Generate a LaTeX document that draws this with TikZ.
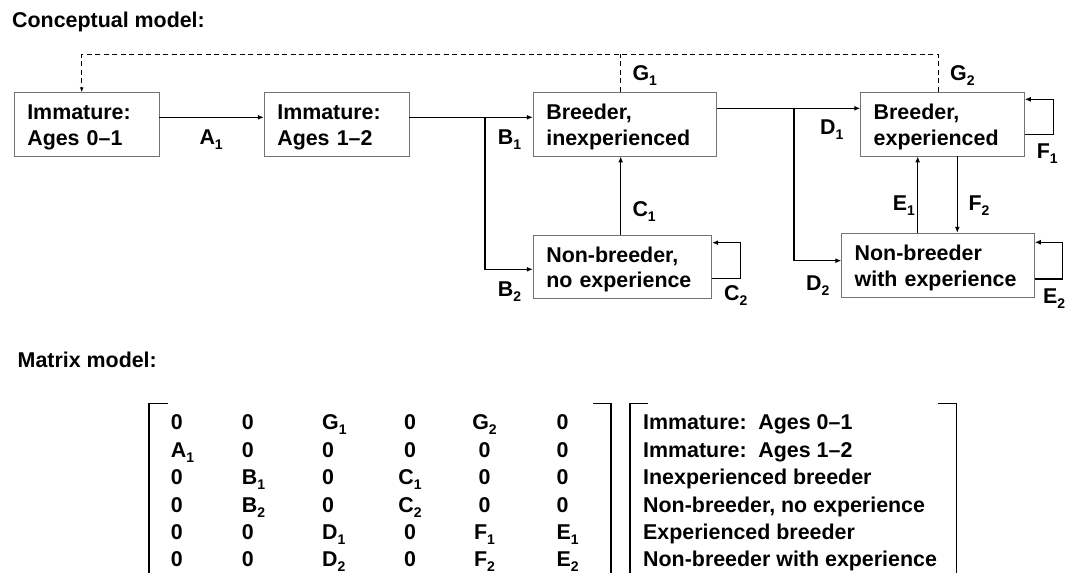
\documentclass[tikz,border=0pt]{standalone}
\usepackage{fontspec}
\setmainfont{Liberation Sans}
\usetikzlibrary{arrows.meta}
\newcommand\lbsub[1]{\raisebox{-5pt}{\fontsize{14}{14}\selectfont#1}}
\newcommand\matrow[8]{%
 \node[lab] (m#1-1) at (170.7,#2) {#3};
 \node[lab] (m#1-2) at (241.7,#2) {#4};
 \node[lab] (m#1-3) at (322,#2) {#5};
 \node[txt,anchor=base] (m#1-4) at (410,#2) {#6};
 \node[txt,anchor=base] (m#1-5) at (484.5,#2) {#7};
 \node[lab] (m#1-6) at (556.5,#2) {#8};}
\begin{document}
\begin{tikzpicture}[x=1pt,y=-1pt,
  txt/.style={font=\bfseries\fontsize{21.4}{25.5}\selectfont, inner sep=0pt},
  box/.style={txt, draw=black!55, line width=0.9pt, inner xsep=13pt, inner ysep=0pt,
              align=left, text height=21pt, text depth=30pt},
  lab/.style={txt, anchor=base west},
  conn/.style={line width=1.3pt, -{Latex[length=6pt,width=5pt]}},
  dconn/.style={line width=1.1pt, dash pattern=on 5pt off 3.5pt},
  brk/.style={line width=1.5pt}]
\useasboundingbox (0,0) rectangle (1066,573);

% titles
\node[lab] (t1) at (12,27) {Conceptual model:};
\node[lab] (t2) at (17.5,367) {Matrix model:};

% boxes
\node[box, minimum height=63.3pt, text width=118.7pt] (B1) at (86.65,124.35) {Immature:\\Ages 0–1};
\node[box, minimum height=63.3pt, text width=118.7pt] (B2) at (336.65,124.35) {Immature:\\Ages 1–2};
\node[box, minimum height=63.7pt, text width=157.4pt] (B3) at (625,124.15) {Breeder,\\inexperienced};
\node[box, minimum height=63.7pt, text width=137.6pt] (B4) at (942.5,124.15) {Breeder,\\experienced};
\node[box, minimum height=63.3pt, text width=152.4pt] (B5) at (622.5,266.65) {Non-breeder,\\no experience};
\node[box, minimum height=64pt, text width=166.6pt] (B6) at (938,265.3) {Non-breeder\\with experience};

% connectors
\draw[conn] (B1.east |- 0,117.3) -- (B2.west |- 0,117.3);
\draw[conn] (B2.east |- 0,117.3) -- (B3.west |- 0,117.3);
\coordinate (jB) at (485,117.3);
\draw[conn] (jB) |- (B5.west |- 0,269.3);
\draw[conn] (B3.east |- 0,108.3) -- (B4.west |- 0,108.3);
\coordinate (jD) at (794,108.3);
\draw[conn] (jD) |- (B6.west |- 0,260.7);
\draw[conn] (B5.north -| 620.7,0) -- (B3.south -| 620.7,0);
\draw[conn] (B5.east |- 0,278.7) -- (740.7,278.7) -- (740.7,242.7) -- (B5.east |- 0,242.7);
\draw[conn] (B4.east |- 0,134.3) -- (1053.3,134.3) -- (1053.3,99.3) -- (B4.east |- 0,99.3);
\draw[conn] (B6.north -| 917.7,0) -- (B4.south -| 917.7,0);
\draw[conn] (B4.south -| 957.3,0) -- (B6.north -| 957.3,0);
\draw[conn] (B6.east |- 0,279) -- (1062.7,279) -- (1062.7,242.3) -- (B6.east |- 0,242.3);
\draw[dconn, -{Latex[length=5pt,width=4pt]}] (B4.north -| 938.3,0) -- (938.3,54.3) -- (81.7,54.3) -- (B1.north -| 81.7,0);
\draw[dconn] (B3.north -| 620.7,0) -- (620.7,54.3);

% connector labels
\node[lab] (lA1) at (199.3,144) {A\lbsub{1}};
\node[lab] (lB1) at (497.7,144) {B\lbsub{1}};
\node[lab] (lB2) at (497.7,296) {B\lbsub{2}};
\node[lab] (lG1) at (632.3,80.7) {G\lbsub{1}};
\node[lab] (lG2) at (950,80.7) {G\lbsub{2}};
\node[lab] (lD1) at (820,134) {D\lbsub{1}};
\node[lab] (lC1) at (632.3,216.7) {C\lbsub{1}};
\node[lab] (lC2) at (724,300) {C\lbsub{2}};
\node[lab] (lD2) at (806,290) {D\lbsub{2}};
\node[lab] (lE1) at (892.7,210.7) {E\lbsub{1}};
\node[lab] (lF2) at (968.3,210.7) {F\lbsub{2}};
\node[lab] (lF1) at (1036.7,158.3) {F\lbsub{1}};
\node[lab] (lE2) at (1043,303.3) {E\lbsub{2}};

% matrix brackets
\draw[brk] (149,574) -- (149,403.3) -- (168,403.3);
\draw[brk] (593,403.3) -- (611,403.3) -- (611,574);
\draw[brk] (630,574) -- (630,403.3) -- (648.3,403.3);
\draw[brk] (938.3,403.3) -- (956.7,403.3) -- (956.7,574);

% matrix entries
\matrow{1}{429.5}{0}{0}{G\lbsub{1}}{0}{G\lbsub{2}}{0}
\matrow{2}{457}{A\lbsub{1}}{0}{0}{0}{0}{0}
\matrow{3}{484.5}{0}{B\lbsub{1}}{0}{C\lbsub{1}}{0}{0}
\matrow{4}{512}{0}{B\lbsub{2}}{0}{C\lbsub{2}}{0}{0}
\matrow{5}{539.5}{0}{0}{D\lbsub{1}}{0}{F\lbsub{1}}{E\lbsub{1}}
\matrow{6}{566.5}{0}{0}{D\lbsub{2}}{0}{F\lbsub{2}}{E\lbsub{2}}

% stage names
\node[lab] (r1) at (643,429.5) {Immature:\hspace{11.8pt}Ages 0–1};
\node[lab] (r2) at (643,457) {Immature:\hspace{11.8pt}Ages 1–2};
\node[lab] (r3) at (643,484.5) {Inexperienced breeder};
\node[lab] (r4) at (643,512) {Non-breeder, no experience};
\node[lab] (r5) at (643,539.5) {Experienced breeder};
\node[lab] (r6) at (643,566.5) {Non-breeder with experience};
\end{tikzpicture}
\end{document}
